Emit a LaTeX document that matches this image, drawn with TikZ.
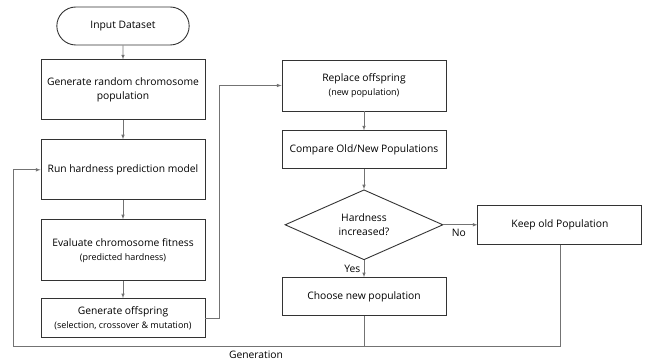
\documentclass[tikz,border=0pt]{standalone}
\usepackage{fontspec}
\setmainfont{Open Sans}
\usepackage{tikz}
\usetikzlibrary{positioning,arrows,shapes,calc}
\tikzset{main node/.style={rectangle,draw=black!80,line width=0.9pt,
minimum width=164pt,align=center,inner sep=2pt,
font=\fontsize{10.3}{14}\selectfont},
start node/.style={rounded rectangle,draw=black!80,line width=0.9pt,
minimum width=139pt,minimum height=38pt,font=\fontsize{10.3}{14}\selectfont},
test node/.style={diamond,aspect=2.25,draw=black!80,line width=0.9pt,
minimum width=158pt,minimum height=70pt,inner sep=0pt,align=center,
font=\fontsize{10.3}{14}\selectfont},
flow/.style={draw=black!55,line width=0.6pt,-latex},
label text/.style={font=\fontsize{10.3}{12}\selectfont}}
\newcommand{\note}[1]{{\fontsize{9}{12}\selectfont #1}}

\begin{document}
\begin{tikzpicture}[x=1pt,y=1pt]
\useasboundingbox (0,0) rectangle (647,363);
\node[start node] (0) at (123,337) {Input Dataset};
\node[main node,minimum height=60pt] (1) [below=14pt of 0] {Generate random chromosome\\population};
\node[main node,minimum height=60pt] (2) [below=19pt of 1] {Run hardness prediction model};
\node[main node,minimum height=61pt] (3) [below=19pt of 2] {Evaluate chromosome fitness\\\note{(predicted hardness)}};
\node[main node,minimum height=39pt] (4) [below=17pt of 3] {Generate offspring\\\note{(selection, crossover \& mutation)}};
\node[main node,minimum height=51pt] (5) at (364,277.5) {Replace offspring\\\note{(new population)}};
\node[main node,minimum height=38pt] (6) [below=19pt of 5] {Compare Old/New Populations};
\node[test node] (7) [below=20pt of 6] {Hardness\\increased?};
\node[main node,minimum height=38pt] (8) [below=17pt of 7] {Choose new population};
\node[main node,minimum height=39pt] (9) [right=34pt of 7] {Keep old Population};
\node[label text] (10) at (256,8) {Generation};
\coordinate (c) at (13,17);

% main flow
\path[flow] (0)--(1);
\path[flow] (1)--(2);
\path[flow] (2)--(3);
\path[flow] (3)--(4);
\path[flow] (4.east)--++(14,0)|-(5.west);
\path[flow] (5)--(6);
\path[flow] (6)--(7);
\path[flow] (7.east)--(9.west) node[pos=0.45,below=1pt,label text] {No};
\path[flow] (7.south)--(8.north) node[midway,left=0pt,label text] {Yes};

% generation loop
\path[flow] (9.south)|-(c)|-(2.west);
\path[draw=black!55,line width=0.6pt] (8.south)--(8.south|-c);
\end{tikzpicture}
\end{document}
